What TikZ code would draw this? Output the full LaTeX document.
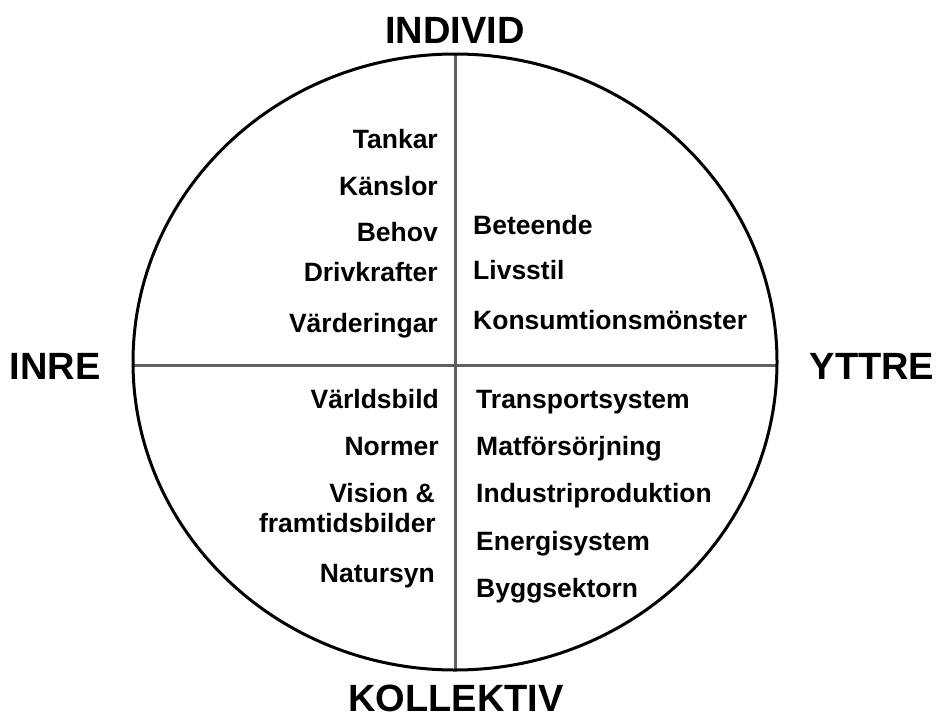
\documentclass[tikz,border=0pt]{standalone}
\usepackage{fontspec}
\setmainfont{Liberation Sans}
\begin{document}
\begin{tikzpicture}[x=1pt,y=-1pt,
  axis/.style={font=\fontsize{38}{40}\selectfont\bfseries},
  item/.style={font=\fontsize{26.5}{30}\selectfont\bfseries},
  lft/.style={item,anchor=base east},
  rgt/.style={item,anchor=base west}]
\tikzstyle{every node}+=[inner sep=0pt]
\useasboundingbox (0,0) rectangle (936,720);
\coordinate (c) at (455,362);
\coordinate (top) at (455,54);
\coordinate (bot) at (455,670);
\coordinate (west) at (133,365);
\coordinate (east) at (777,365);
\draw [gray!75!black, line width=3pt] (top) -- (bot);
\draw [gray!75!black, line width=3pt] (west) -- (east);
\draw [black, line width=3pt] (c) ellipse [x radius=322pt, y radius=308pt];
% axes
\node [axis] (individ) at (455,30) {INDIVID};
\node [axis] (kollektiv) at (456,698) {KOLLEKTIV};
\node [axis] (inre) at (55,366) {INRE};
\node [axis] (yttre) at (872,366) {YTTRE};
% inre individ
\node [lft] (tankar) at (438,148) {Tankar};
\node [lft] (kanslor) at (438,195) {Känslor};
\node [lft] (behov) at (438,241) {Behov};
\node [lft] (drivkrafter) at (438,281) {Drivkrafter};
\node [lft] (varderingar) at (438,332) {Värderingar};
% yttre individ
\node [rgt] (beteende) at (473,234) {Beteende};
\node [rgt] (livsstil) at (473,279) {Livsstil};
\node [rgt] (konsumtion) at (473,329) {Konsumtionsmönster};
% inre kollektiv
\node [lft] (varldsbild) at (439,408) {Världsbild};
\node [lft] (normer) at (439,455) {Normer};
\node [lft] (vision) at (435,502) {Vision \&};
\node [lft] (framtid) at (436,532) {framtidsbilder};
\node [lft] (natursyn) at (435,582) {Natursyn};
% yttre kollektiv
\node [rgt] (transport) at (476,408) {Transportsystem};
\node [rgt] (mat) at (476,455) {Matförsörjning};
\node [rgt] (industri) at (476,502) {Industriproduktion};
\node [rgt] (energi) at (476,550) {Energisystem};
\node [rgt] (bygg) at (476,597) {Byggsektorn};
\end{tikzpicture}
\end{document}
